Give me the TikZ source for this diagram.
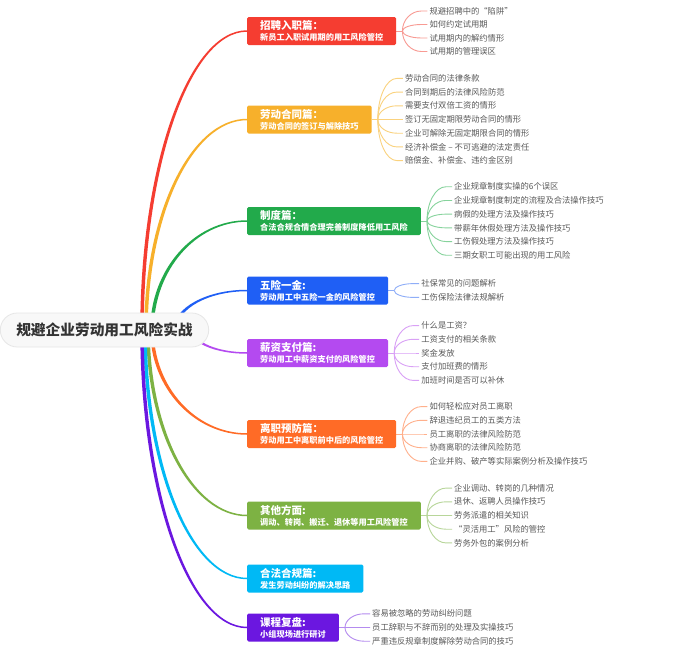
\documentclass[tikz,border=0pt]{standalone}
\usepackage{fontspec}
\setmainfont{Noto Sans CJK SC}
\usetikzlibrary{calc}
\definecolor{c1}{HTML}{F53D31}
\definecolor{c2}{HTML}{F7B02B}
\definecolor{c3}{HTML}{22AA4B}
\definecolor{c4}{HTML}{1F5FF5}
\definecolor{c5}{HTML}{B44AF0}
\definecolor{c6}{HTML}{FF6B26}
\definecolor{c7}{HTML}{7DB243}
\definecolor{c8}{HTML}{00B9F5}
\definecolor{c9}{HTML}{6B17E0}
\definecolor{l1}{HTML}{F89A93}
\definecolor{l2}{HTML}{FAD27E}
\definecolor{l3}{HTML}{86D39C}
\definecolor{l4}{HTML}{8FAEF8}
\definecolor{l5}{HTML}{D9A1F6}
\definecolor{l6}{HTML}{FFB08C}
\definecolor{l7}{HTML}{B8D69A}
\definecolor{l9}{HTML}{B48BEF}
\definecolor{leafgray}{HTML}{595959}
\definecolor{rootgray}{HTML}{333333}
\definecolor{rootfill}{HTML}{F8F8F8}
\definecolor{rootline}{HTML}{E6E6E6}
\pgfdeclarelayer{back}
\pgfdeclarelayer{bg}
\pgfsetlayers{back,bg,main}
\tikzset{
  mbox/.style={anchor=west, rounded corners=1.5pt, inner xsep=13pt, inner ysep=3.3pt,
    align=left, text=white, font=\bfseries\fontsize{8.2}{11}\selectfont, minimum height=28pt},
  rootbox/.style={draw=rootline, line width=0.8pt, fill=rootfill, rounded corners=17pt,
    minimum height=34pt, inner xsep=16pt, text=rootgray, font=\bfseries\fontsize{14.7}{16}\selectfont},
  leaf/.style={anchor=west, inner sep=0pt, text=leafgray, font=\fontsize{8.3}{10}\selectfont},
  lc/.style={draw=#1, line width=0.9pt},
}
\newcommand\ttl[1]{{\fontsize{10.5}{11}\selectfont #1}}
\newcommand\kk{0.55}
% main branch: hub, box, colour, sign (1 up, -1 down)
\newcommand\mbranch[4]{%
  \path ([xshift=-1.75pt]#1) coordinate (oA) ([xshift=1.75pt]#1) coordinate (iA)
        ([yshift=#4*0.75pt]#2.west) coordinate (oB) ([yshift=#4*-0.75pt]#2.west) coordinate (iB);
  \fill[#3] (oA) .. controls ($(oA)!\kk!(oA|-oB)$) and ($(oB)!\kk!(oA|-oB)$) .. (oB)
     -- (iB) .. controls ($(iB)!\kk!(iA|-iB)$) and ($(iA)!\kk!(iA|-iB)$) .. (iA) -- cycle;
}
% leaf connector: fork, leaf node, colour
\newcommand\lf[3]{%
  \draw[lc=#3] (#1) .. controls ($(#1)!0.55!(#1|-#2.west)$) and ($([xshift=-8pt]#2.west)!0.55!(#1|-#2.west)$) .. ([xshift=-8pt]#2.west) -- ([xshift=-2pt]#2.west);
}
\begin{document}
\begin{tikzpicture}[x=1pt,y=-1pt]
\useasboundingbox (0,0) rectangle (675,648);
\begin{pgfonlayer}{back}
\fill[white] (0,0) rectangle (675,648);
\end{pgfonlayer}

% root
\node[rootbox] (root) at (104.5,330) {规避企业劳动用工风险实战};

% hubs (hidden behind root)
\coordinate (h1) at (142,330);
\coordinate (h2) at (146,330);
\coordinate (h3) at (152,330);
\coordinate (h4) at (175,330);
\coordinate (h5) at (192,330);
\coordinate (h6) at (152,330);
\coordinate (h7) at (148,330);
\coordinate (h8) at (145,330);
\coordinate (h9) at (142,330);

% main boxes
\node[mbox, fill=c1] (b1) at (247,31) {\ttl{招聘入职篇：}\\新员工入职试用期的用工风险管控};
\node[mbox, fill=c2] (b2) at (247,119.5) {\ttl{劳动合同篇：}\\劳动合同的签订与解除技巧};
\node[mbox, fill=c3] (b3) at (247,221) {\ttl{制度篇：}\\合法合规合情合理完善制度降低用工风险};
\node[mbox, fill=c4] (b4) at (247,290.5) {\ttl{五险一金:}\\劳动用工中五险一金的风险管控};
\node[mbox, fill=c5] (b5) at (247,353) {\ttl{薪资支付篇:}\\劳动用工中薪资支付的风险管控};
\node[mbox, fill=c6] (b6) at (247,434) {\ttl{离职预防篇：}\\劳动用工中离职前中后的风险管控};
\node[mbox, fill=c7] (b7) at (247,515.5) {\ttl{其他方面:}\\调动、转岗、搬迁、退休等用工风险管控};
\node[mbox, fill=c8] (b8) at (247,578.5) {\ttl{合法合规篇:}\\发生劳动纠纷的解决思路};
\node[mbox, fill=c9] (b9) at (247,627.5) {\ttl{课程复盘:}\\小组现场进行研讨};

% text columns and forks
\foreach \i in {1,2,3,4,5,6,7,9}{
  \path (b\i.east) ++(33,0) coordinate (t\i);
  \path (b\i.east) ++(6,0) coordinate (f\i);
}

% leaves
\node[leaf] (a1) at (t1 |- 0,11) {规避招聘中的“陷阱”};
\node[leaf] (a2) at (t1 |- 0,24.5) {如何约定试用期};
\node[leaf] (a3) at (t1 |- 0,38) {试用期内的解约情形};
\node[leaf] (a4) at (t1 |- 0,51.5) {试用期的管理误区};

\node[leaf] (d1) at (t2 |- 0,78.4) {劳动合同的法律条款};
\node[leaf] (d2) at (t2 |- 0,92.1) {合同到期后的法律风险防范};
\node[leaf] (d3) at (t2 |- 0,105.8) {需要支付双倍工资的情形};
\node[leaf] (d4) at (t2 |- 0,119.5) {签订无固定期限劳动合同的情形};
\node[leaf] (d5) at (t2 |- 0,133.2) {企业可解除无固定期限合同的情形};
\node[leaf] (d6) at (t2 |- 0,146.9) {经济补偿金 – 不可逃避的法定责任};
\node[leaf] (d7) at (t2 |- 0,160.6) {赔偿金、补偿金、违约金区别};

\node[leaf] (e1) at (t3 |- 0,186.75) {企业规章制度实操的6个误区};
\node[leaf] (e2) at (t3 |- 0,200.45) {企业规章制度制定的流程及合法操作技巧};
\node[leaf] (e3) at (t3 |- 0,214.15) {病假的处理方法及操作技巧};
\node[leaf] (e4) at (t3 |- 0,227.85) {带薪年休假处理方法及操作技巧};
\node[leaf] (e5) at (t3 |- 0,241.55) {工伤假处理方法及操作技巧};
\node[leaf] (e6) at (t3 |- 0,255.25) {三期女职工可能出现的用工风险};

\node[leaf] (g1) at (t4 |- 0,283.6) {社保常见的问题解析};
\node[leaf] (g2) at (t4 |- 0,297.4) {工伤保险法律法规解析};

\node[leaf] (k1) at (t5 |- 0,325.6) {什么是工资？};
\node[leaf] (k2) at (t5 |- 0,339.3) {工资支付的相关条款};
\node[leaf] (k3) at (t5 |- 0,353) {奖金发放};
\node[leaf] (k4) at (t5 |- 0,366.7) {支付加班费的情形};
\node[leaf] (k5) at (t5 |- 0,380.4) {加班时间是否可以补休};

\node[leaf] (m1) at (t6 |- 0,406.6) {如何轻松应对员工离职};
\node[leaf] (m2) at (t6 |- 0,420.3) {辞退违纪员工的五类方法};
\node[leaf] (m3) at (t6 |- 0,434) {员工离职的法律风险防范};
\node[leaf] (m4) at (t6 |- 0,447.7) {协商离职的法律风险防范};
\node[leaf] (m5) at (t6 |- 0,461.4) {企业并购、破产等实际案例分析及操作技巧};

\node[leaf] (n1) at (t7 |- 0,488.1) {企业调动、转岗的几种情况};
\node[leaf] (n2) at (t7 |- 0,501.8) {退休、返聘人员操作技巧};
\node[leaf] (n3) at (t7 |- 0,515.5) {劳务派遣的相关知识};
\node[leaf] (n4) at (t7 |- 0,529.2) {“灵活用工”风险的管控};
\node[leaf] (n5) at (t7 |- 0,542.9) {劳务外包的案例分析};

\node[leaf] (q1) at (t9 |- 0,613.8) {容易被忽略的劳动纠纷问题};
\node[leaf] (q2) at (t9 |- 0,627.5) {员工辞职与不辞而别的处理及实操技巧};
\node[leaf] (q3) at (t9 |- 0,641.2) {严重违反规章制度解除劳动合同的技巧};

\begin{pgfonlayer}{bg}
  \mbranch{h1}{b1}{c1}{1}
  \mbranch{h2}{b2}{c2}{1}
  \mbranch{h3}{b3}{c3}{1}
  \mbranch{h4}{b4}{c4}{1}
  \mbranch{h5}{b5}{c5}{-1}
  \mbranch{h6}{b6}{c6}{-1}
  \mbranch{h7}{b7}{c7}{-1}
  \mbranch{h8}{b8}{c8}{-1}
  \mbranch{h9}{b9}{c9}{-1}

  \draw[lc=l1] (b1.east) -- (f1);
  \foreach \n in {a1,a2,a3,a4}{\lf{f1}{\n}{l1}}
  \draw[lc=l2] (b2.east) -- (f2);
  \foreach \n in {d1,d2,d3,d4,d5,d6,d7}{\lf{f2}{\n}{l2}}
  \draw[lc=l3] (b3.east) -- (f3);
  \foreach \n in {e1,e2,e3,e4,e5,e6}{\lf{f3}{\n}{l3}}
  \draw[lc=l4] (b4.east) -- (f4);
  \foreach \n in {g1,g2}{\lf{f4}{\n}{l4}}
  \draw[lc=l5] (b5.east) -- (f5);
  \foreach \n in {k1,k2,k3,k4,k5}{\lf{f5}{\n}{l5}}
  \draw[lc=l6] (b6.east) -- (f6);
  \foreach \n in {m1,m2,m3,m4,m5}{\lf{f6}{\n}{l6}}
  \draw[lc=l7] (b7.east) -- (f7);
  \foreach \n in {n1,n2,n3,n4,n5}{\lf{f7}{\n}{l7}}
  \draw[lc=l9] (b9.east) -- (f9);
  \foreach \n in {q1,q2,q3}{\lf{f9}{\n}{l9}}
\end{pgfonlayer}
\end{tikzpicture}
\end{document}
